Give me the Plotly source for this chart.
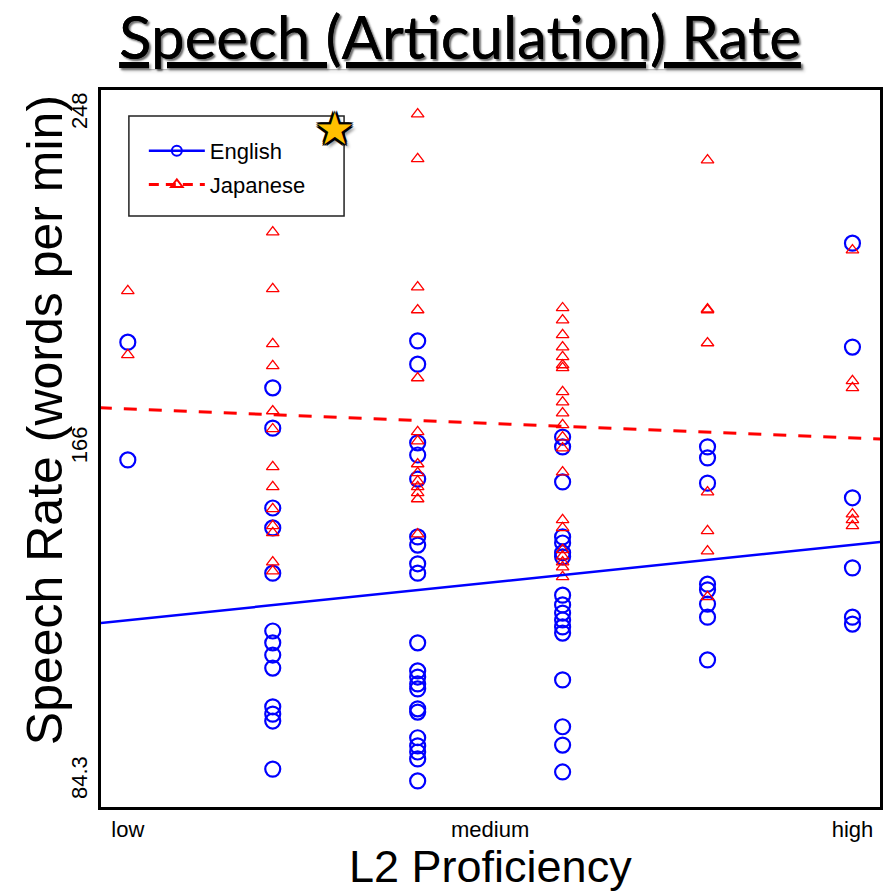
import plotly.graph_objects as go

# ---------------- data ----------------
level_labels = ["low", "medium", "high"]
level_label_pos = [1, 3.5, 6]
y_ticks = [84.3, 166, 248]

# English speech rates per proficiency level (1..6)
eng_1 = [192.0, 163.1]
eng_2 = [180.8, 170.9, 151.3, 146.4, 135.3, 121.1, 118.2, 115.2, 112.0, 102.5, 100.7, 99.0, 87.2]
eng_3 = [192.3, 186.6, 167.3, 164.3, 158.4, 144.2, 142.2, 137.6, 135.3, 118.2, 111.3, 109.8,
         108.1, 106.9, 102.0, 101.2, 94.9, 92.9, 91.4, 89.7, 84.3]
eng_4 = [168.7, 166.3, 157.7, 144.2, 142.7, 140.3, 139.3, 129.9, 127.5, 125.5, 123.8, 122.1,
         120.6, 109.1, 97.6, 93.1, 86.5]
eng_5 = [166.3, 163.6, 157.4, 132.6, 131.2, 127.7, 124.5, 114.0]
eng_6 = [216.3, 190.8, 153.8, 136.6, 124.5, 122.8]

# Japanese speech rates per proficiency level (1..6)
jap_1 = [204.6, 188.9]
jap_2 = [219.0, 205.1, 191.6, 186.2, 175.1, 170.7, 161.4, 156.5, 151.1, 146.9, 145.2, 138.0, 135.8]
jap_3 = [248.0, 237.0, 205.5, 199.9, 183.2, 170.0, 167.7, 162.1, 159.9, 157.9, 156.5, 155.0,
         153.5, 144.9]
jap_4 = [200.4, 197.4, 193.8, 190.8, 188.4, 186.4, 185.7, 179.8, 177.3, 174.6, 171.7, 168.7,
         166.0, 160.1, 148.4, 146.4, 141.0, 139.5, 138.0, 136.8, 134.4]
jap_5 = [236.7, 200.1, 199.9, 191.8, 155.2, 145.7, 140.7, 129.5]
jap_6 = [214.6, 182.5, 180.8, 149.8, 148.4, 146.9]

# fitted lines (values at the ends of the x range)
fit_x = [0.8, 6.2]
eng_fit = [123.0, 143.0]
jap_fit = [175.9, 168.2]

eng_levels = [eng_1, eng_2, eng_3, eng_4, eng_5, eng_6]
jap_levels = [jap_1, jap_2, jap_3, jap_4, jap_5, jap_6]


def flatten(levels):
    xs, ys = [], []
    for i, vals in enumerate(levels, start=1):
        xs += [i] * len(vals)
        ys += vals
    return xs, ys


ex, ey = flatten(eng_levels)
jx, jy = flatten(jap_levels)

BLUE = "#0000FF"
RED = "#FF0000"
FONT = "Liberation Sans"

fig = go.Figure()

fig.add_trace(go.Scatter(
    x=ex, y=ey, mode="markers", showlegend=False,
    marker=dict(symbol="circle-open", size=15, color=BLUE, line=dict(width=2.2, color=BLUE)),
))
fig.add_trace(go.Scatter(
    x=jx, y=jy, mode="markers", showlegend=False,
    marker=dict(symbol="triangle-up-open", size=11, color=RED, line=dict(width=1.3, color=RED)),
))
fig.add_trace(go.Scatter(
    x=fit_x, y=eng_fit, mode="lines", showlegend=False,
    line=dict(color=BLUE, width=2.5),
))
fig.add_trace(go.Scatter(
    x=fit_x, y=jap_fit, mode="lines", showlegend=False,
    line=dict(color=RED, width=3, dash="13px,12px"),
))

# legend entries
fig.add_trace(go.Scatter(
    x=[None], y=[None], mode="lines+markers", name="English", legendgroup="e",
    line=dict(color=BLUE, width=2.5),
    marker=dict(symbol="circle-open", size=10, color=BLUE, line=dict(width=2, color=BLUE)),
))
fig.add_trace(go.Scatter(
    x=[None], y=[None], mode="lines+markers", name="Japanese", legendgroup="j",
    line=dict(color=RED, width=3, dash="10px,7px"),
    marker=dict(symbol="triangle-up-open", size=10, color=RED, line=dict(width=2, color=RED)),
))

L, T, PW, PH = 101, 90, 782, 717


def px(x):
    return (x - L) / PW


def py(y):
    return (T + PH - y) / PH


fig.update_layout(
    width=883, height=891,
    margin=dict(l=L, r=0, t=T, b=891 - T - PH),
    paper_bgcolor="white", plot_bgcolor="white",
    font=dict(family=FONT, color="black"),
    title=dict(
        text="Speech (Articulation) Rate",
        x=460 / 883, xanchor="center", xref="container",
        y=1 - 38 / 891, yanchor="middle", yref="container",
        font=dict(family="Lato", size=60, weight=400, color="black", lineposition="under",
                  shadow="2px 2px 2px rgba(0,0,0,0.35)"),
    ),
    xaxis=dict(
        range=[0.815, 6.19], tickvals=level_label_pos, ticktext=level_labels,
        ticks="", showgrid=False, zeroline=False,
        showline=True, mirror=True, linecolor="black", linewidth=3,
        tickfont=dict(family=FONT, size=22, color="black"),
        ticklabelstandoff=1,
    ),
    yaxis=dict(
        range=[77.9, 253.9], tickvals=y_ticks, ticktext=[str(v) for v in y_ticks],
        ticks="", showgrid=False, zeroline=False,
        showline=True, mirror=True, linecolor="black", linewidth=3,
        tickangle=-90, tickfont=dict(family=FONT, size=22, color="black"),
        ticklabelstandoff=2,
    ),
    legend=dict(
        x=px(144), y=py(130), xanchor="left", yanchor="top",
        bgcolor="rgba(0,0,0,0)", borderwidth=0,
        font=dict(family=FONT, size=22, color="black"),
        itemwidth=56, tracegroupgap=2,
    ),
    shapes=[dict(
        type="rect", xref="paper", yref="paper",
        x0=px(129), x1=px(345), y0=py(216), y1=py(116),
        line=dict(color="#222222", width=1.5), fillcolor="rgba(0,0,0,0)",
    )],
    annotations=[
        dict(text="L2 Proficiency", xref="paper", yref="paper",
             x=px(492), y=py(866), xanchor="center", yanchor="middle",
             showarrow=False, font=dict(family=FONT, size=45, color="black")),
        dict(text="Speech Rate (words per min)", xref="paper", yref="paper",
             x=px(45), y=py(420), xanchor="center", yanchor="middle", textangle=-90,
             showarrow=False, font=dict(family=FONT, size=50, color="black")),
        dict(text="★", xref="paper", yref="paper",
             x=px(335), y=py(128), xanchor="center", yanchor="middle",
             showarrow=False,
             font=dict(family="DejaVu Sans", size=44, color="#FFC000",
                       shadow="-2px -2px 0 #000, 2px -2px 0 #000, -2px 2px 0 #000, 2px 2px 0 #000, 0 2px 0 #000, 0 -2px 0 #000, 2px 0 0 #000, -2px 0 0 #000, 4px 4px 3px rgba(0,0,0,0.4)")),
    ],
)

fig.write_html(
    "out.html",
    config={"displayModeBar": False},
    post_script="document.body.style.margin='0px';document.body.style.overflow='hidden';",
)
